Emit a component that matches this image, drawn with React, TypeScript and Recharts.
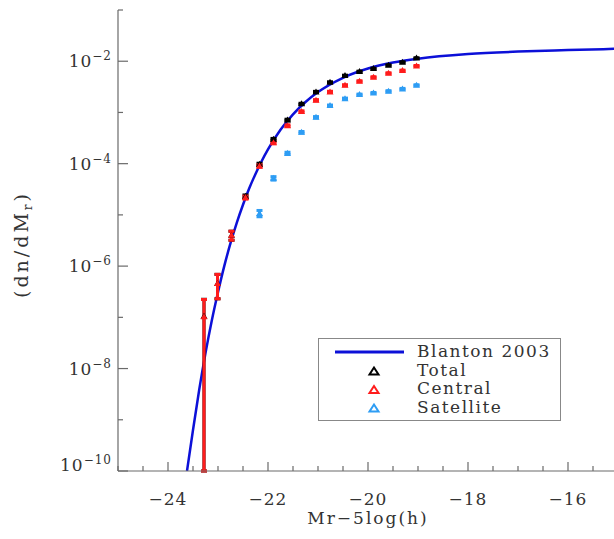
import { ComposedChart, Line, Scatter, XAxis, YAxis, ErrorBar } from "recharts";

// magnitude bins of the measured luminosity function
const binMag = [
  -23.28, -23.01, -22.73, -22.45, -22.17, -21.89, -21.61, -21.33,
  -21.04, -20.76, -20.46, -20.17, -19.89, -19.59, -19.31, -19.03,
];

const totalVals = [
  1.05e-7, 4.6e-7, 4.0e-6, 2.3e-5, 9.7e-5, 2.99e-4, 7.13e-4, 1.47e-3,
  2.52e-3, 3.89e-3, 5.24e-3, 6.28e-3, 7.18e-3, 8.37e-3, 9.58e-3, 1.15e-2,
];
const totalErrs = [
  1.2e-7, 2.3e-7, 0.8e-6, 1.5e-6, 5e-6, 1.2e-5, 2.5e-5, 4e-5,
  6e-5, 8e-5, 1e-4, 1.2e-4, 1.3e-4, 1.5e-4, 1.7e-4, 2e-4,
];

const centralVals = [
  1.03e-7, 4.6e-7, 4.0e-6, 2.18e-5, 9.0e-5, 2.57e-4, 5.52e-4, 1.04e-3,
  1.73e-3, 2.52e-3, 3.4e-3, 4.07e-3, 4.88e-3, 5.83e-3, 6.56e-3, 8.11e-3,
];
const centralErrs = [
  1.2e-7, 2.3e-7, 0.8e-6, 1.5e-6, 5e-6, 1.1e-5, 2e-5, 3.5e-5,
  5e-5, 7e-5, 8e-5, 9e-5, 1e-4, 1.2e-4, 1.3e-4, 1.5e-4,
];

// satellites only show up from the 5th bin on
const satVals = [
  null, null, null, null, 1.07e-5, 5.18e-5, 1.59e-4, 4.1e-4,
  8.05e-4, 1.36e-3, 1.86e-3, 2.23e-3, 2.4e-3, 2.6e-3, 2.88e-3, 3.4e-3,
];
const satErrs = [
  null, null, null, null, 1.5e-6, 4e-6, 8e-6, 1.5e-5,
  2.5e-5, 3.5e-5, 4.5e-5, 5e-5, 5.5e-5, 6e-5, 6.5e-5, 7e-5,
];

// Blanton 2003 curve
const curveMag = [
  -23.62, -23.5, -23.375, -23.25, -23.125, -23.0, -22.875, -22.75, -22.625,
  -22.5, -22.375, -22.25, -22.125, -22.0, -21.75, -21.5, -21.25, -21.0,
  -20.5, -20.0, -19.5, -19.0, -18.0, -17.0, -16.0, -15.0,
];
const curveVals = [
  1.0e-10, 6.3e-10, 3.9e-9, 2.0e-8, 8.6e-8, 3.1e-7, 1.0e-6, 2.8e-6, 7.0e-6,
  1.58e-5, 3.3e-5, 6.3e-5, 1.13e-4, 1.9e-4, 4.6e-4, 9.2e-4, 1.6e-3, 2.5e-3,
  4.75e-3, 7.2e-3, 9.4e-3, 1.12e-2, 1.38e-2, 1.54e-2, 1.65e-2, 1.75e-2,
];

const xTicks = [
  -25, -24.5, -24, -23.5, -23, -22.5, -22, -21.5, -21, -20.5, -20,
  -19.5, -19, -18.5, -18, -17.5, -17, -16.5, -16, -15.5, -15,
];
const yTicks = [1e-10, 1e-9, 1e-8, 1e-7, 1e-6, 1e-5, 1e-4, 1e-3, 1e-2, 1e-1];
const Y_MIN = 1e-10;
const Y_MAX = 1e-1;

const AXIS = "#6a6a6a";
const TEXT = "#333";
const FONT = "DejaVu Serif";
const BLUE_LINE = "#0c10d8";

const series = [
  { name: "Total", color: "#000000", vals: totalVals, errs: totalErrs },
  { name: "Central", color: "#ff1c1c", vals: centralVals, errs: centralErrs },
  { name: "Satellite", color: "#2e9df4", vals: satVals, errs: satErrs },
];

function buildRows(vals: (number | null)[], errs: (number | null)[]) {
  const rows: any[] = [];
  vals.forEach((v, i) => {
    if (v == null) return;
    const e = errs[i] as number;
    // lower bar can't go below the axis floor on a log scale
    const lo = Math.min(e, v - Y_MIN);
    rows.push({ x: binMag[i], y: v, err: [lo, e] });
  });
  return rows;
}

const curveRows = curveMag.map((m, i) => ({ x: m, y: curveVals[i] }));

function Tri(props: any) {
  const { cx, cy, fill } = props;
  if (cx == null || cy == null) return null;
  return (
    <polygon
      points={`${cx},${cy - 3.5} ${cx - 3.5},${cy + 2.5} ${cx + 3.5},${cy + 2.5}`}
      fill={fill}
    />
  );
}

function BottomTick({ x, y, payload }: any) {
  const v = payload.value;
  const major = Math.abs(v % 2) < 1e-9;
  return (
    <g>
      <line x1={x} x2={x} y1={y} y2={y - (major ? 9 : 5)} stroke={AXIS} strokeWidth={1.2} />
      {major && (
        <text
          x={x}
          y={y + 34}
          textAnchor="middle"
          fill={TEXT}
          fontFamily={FONT}
          fontSize={17}
          letterSpacing={1}
        >
          {`−${Math.abs(v)}`}
        </text>
      )}
    </g>
  );
}

function TopTick({ x, y, payload }: any) {
  const major = Math.abs(payload.value % 2) < 1e-9;
  return <line x1={x} x2={x} y1={y} y2={y + (major ? 9 : 5)} stroke={AXIS} strokeWidth={1.2} />;
}

function LeftTick({ x, y, payload }: any) {
  const exp = Math.round(Math.log10(payload.value));
  const major = exp % 2 === 0;
  const shift = exp === -10 ? -6 : 0;
  return (
    <g>
      <line x1={x} x2={x + (major ? 10 : 5)} y1={y} y2={y} stroke={AXIS} strokeWidth={1.2} />
      {major && (
        <text
          x={x - 6}
          y={y + 6 + shift}
          textAnchor="end"
          fill={TEXT}
          fontFamily={FONT}
          fontSize={17}
          letterSpacing={1}
        >
          10
          <tspan dy={-7} fontSize={12}>{`−${Math.abs(exp)}`}</tspan>
        </text>
      )}
    </g>
  );
}

function RightTick({ x, y, payload }: any) {
  const exp = Math.round(Math.log10(payload.value));
  const major = exp % 2 === 0;
  return <line x1={x} x2={x - (major ? 10 : 5)} y1={y} y2={y} stroke={AXIS} strokeWidth={1.2} />;
}

function YTitle({ viewBox }: any) {
  const cx = viewBox.x + 20;
  const cy = viewBox.y + viewBox.height / 2 + 4;
  return (
    <text
      x={cx}
      y={cy}
      transform={`rotate(-90, ${cx}, ${cy})`}
      textAnchor="middle"
      fill={TEXT}
      fontFamily={FONT}
      fontSize={19}
      letterSpacing={3}
    >
      (dn/dM
      <tspan dy={4} fontSize={12}>r</tspan>
      <tspan dy={-4}>)</tspan>
    </text>
  );
}

function LegendBox() {
  const rows = series.map((s, i) => ({ ...s, y: 37.5 + i * 18.5 }));
  return (
    <svg
      width={243}
      height={84}
      style={{ position: "absolute", left: 318, top: 338 }}
    >
      <rect x={0.5} y={0.5} width={242} height={82} fill="#fff" stroke="#888" strokeWidth={1} />
      <line x1={17} x2={86} y1={14} y2={14} stroke={BLUE_LINE} strokeWidth={3} />
      <text x={99} y={19} fill={TEXT} fontFamily={FONT} fontSize={17} letterSpacing={1.5}>
        Blanton 2003
      </text>
      {rows.map((r) => (
        <g key={r.name}>
          <polygon
            points={`56,${r.y - 8} 51.5,${r.y - 1} 60.5,${r.y - 1}`}
            fill="none"
            stroke={r.color}
            strokeWidth={2}
          />
          <text x={99} y={r.y} fill={TEXT} fontFamily={FONT} fontSize={17} letterSpacing={1.5}>
            {r.name}
          </text>
        </g>
      ))}
    </svg>
  );
}

export default function App() {
  return (
    <div
      style={{
        position: "absolute",
        left: 0,
        top: 0,
        width: 614,
        height: 539,
        overflow: "hidden",
        background: "#fff",
      }}
    >
      <ComposedChart width={640} height={539} margin={{ top: 10, right: 22, bottom: 8, left: 8 }}>
        <XAxis
          xAxisId="bottom"
          dataKey="x"
          type="number"
          domain={[-25, -15]}
          ticks={xTicks}
          interval={0}
          allowDataOverflow
          height={60}
          tickSize={0}
          tickMargin={0}
          tickLine={false}
          tick={<BottomTick />}
          axisLine={{ stroke: AXIS, strokeWidth: 1.2 }}
          label={{
            value: "Mr−5log(h)",
            position: "insideBottom",
            offset: 7,
            fill: TEXT,
            fontFamily: FONT,
            fontSize: 17,
            letterSpacing: 2,
          }}
        />
        <XAxis
          xAxisId="top"
          orientation="top"
          type="number"
          domain={[-25, -15]}
          ticks={xTicks}
          interval={0}
          allowDataOverflow
          height={0}
          tickSize={0}
          tickMargin={0}
          tickLine={false}
          tick={<TopTick />}
          axisLine={{ stroke: AXIS, strokeWidth: 1.2 }}
        />
        <YAxis
          yAxisId="left"
          dataKey="y"
          type="number"
          scale="log"
          domain={[Y_MIN, Y_MAX]}
          ticks={yTicks}
          interval={0}
          allowDataOverflow
          width={110}
          tickSize={0}
          tickMargin={0}
          tickLine={false}
          tick={<LeftTick />}
          axisLine={{ stroke: AXIS, strokeWidth: 1.2 }}
          label={{ content: <YTitle /> }}
        />
        <YAxis
          yAxisId="right"
          orientation="right"
          type="number"
          scale="log"
          domain={[Y_MIN, Y_MAX]}
          ticks={yTicks}
          interval={0}
          allowDataOverflow
          width={0}
          tickSize={0}
          tickMargin={0}
          tickLine={false}
          tick={<RightTick />}
          axisLine={{ stroke: AXIS, strokeWidth: 1.2 }}
        />
        <Line
          xAxisId="bottom"
          yAxisId="left"
          data={curveRows}
          dataKey="y"
          type="monotone"
          stroke={BLUE_LINE}
          strokeWidth={2.5}
          dot={false}
          isAnimationActive={false}
        />
        {series.map((s) => (
          <Scatter
            key={s.name}
            name={s.name}
            xAxisId="bottom"
            yAxisId="left"
            data={buildRows(s.vals, s.errs)}
            dataKey="y"
            fill={s.color}
            shape={(p: any) => <Tri {...p} fill={s.color} />}
            isAnimationActive={false}
          >
            <ErrorBar
              dataKey="err"
              direction="y"
              width={3}
              stroke={s.color}
              strokeWidth={3}
              isAnimationActive={false}
            />
          </Scatter>
        ))}
      </ComposedChart>
      <LegendBox />
    </div>
  );
}
